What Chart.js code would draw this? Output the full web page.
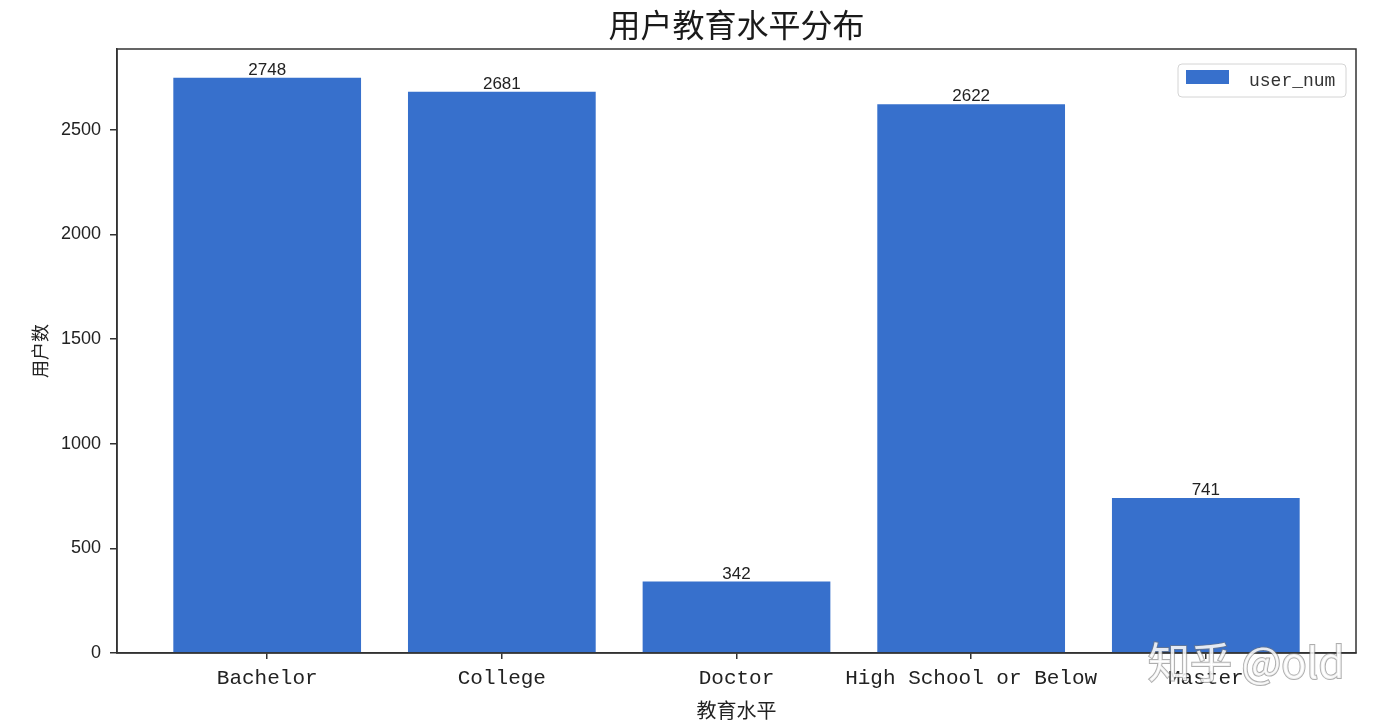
<!DOCTYPE html>
<html>
<head>
<meta charset="utf-8">
<script src="https://cdn.jsdelivr.net/npm/chart.js@4"></script>
<style>
  html, body { margin: 0; padding: 0; background: #fff; }
  #wrap { width: 1384px; height: 722px; }
</style>
</head>
<body>
<div id="wrap"><canvas id="mychart" width="1384" height="722"></canvas></div>
<script>
// 類別與數值
var categories = ['Bachelor', 'College', 'Doctor', 'High School or Below', 'Master']
var userNum = [2748, 2681, 342, 2622, 741]
var yTicks = [0, 500, 1000, 1500, 2000, 2500]
var seriesName = 'user_num'
var barColor = '#3770cc'

// 外框(上、右)
var frame = {
    id: 'frame',
    afterDraw: function (chart) {
        var a = chart.chartArea, c = chart.ctx
        c.save()
        c.strokeStyle = '#333'
        c.lineWidth = 1.5
        c.strokeRect(a.left, a.top, a.right - a.left, a.bottom - a.top)
        c.restore()
    }
}

// 柱頂數字
var barValues = {
    id: 'barValues',
    afterDatasetsDraw: function (chart) {
        var c = chart.ctx
        var meta = chart.getDatasetMeta(0)
        c.save()
        c.font = '17px "Liberation Sans", Arial, sans-serif'
        c.fillStyle = '#222'
        c.textAlign = 'center'
        c.textBaseline = 'bottom'
        meta.data.forEach(function (bar, i) {
            c.fillText(String(userNum[i]), bar.x, bar.y + 1)
        })
        c.restore()
    }
}

// 圖例(右上角,有框)
var boxLegend = {
    id: 'boxLegend',
    afterDraw: function (chart) {
        var a = chart.chartArea, c = chart.ctx
        var w = 168, h = 33
        var x = a.right - 10 - w, y = a.top + 15
        c.save()
        c.beginPath()
        c.roundRect(x, y, w, h, 4)
        c.fillStyle = 'rgba(255,255,255,0.8)'
        c.fill()
        c.strokeStyle = '#d4d4d4'
        c.lineWidth = 1
        c.stroke()
        c.fillStyle = barColor
        c.fillRect(x + 8, y + 6, 43, 14)
        c.fillStyle = '#333'
        c.font = '18px "Liberation Mono", "DejaVu Sans Mono", monospace'
        c.textBaseline = 'middle'
        c.fillText(chart.data.datasets[0].label, x + 71, y + 17)
        c.restore()
    }
}

// 浮水印
var watermark = {
    id: 'watermark',
    afterDraw: function (chart) {
        var c = chart.ctx
        c.save()
        c.font = '42px "Noto Sans CJK SC", sans-serif'
        c.textBaseline = 'middle'
        c.lineWidth = 2
        c.strokeStyle = 'rgba(120,120,120,0.6)'
        c.fillStyle = 'rgba(255,255,255,0.85)'
        c.strokeText('知乎 @old', 1148, 662)
        c.fillText('知乎 @old', 1148, 662)
        c.restore()
    }
}

var ctx = document.getElementById('mychart').getContext('2d')
var barchart = new Chart(ctx, {
    type: 'bar',
    data: {
        datasets: [{
            label: seriesName,
            data: userNum.map(function (v, i) { return { x: i, y: v } }),
            backgroundColor: barColor,
            borderWidth: 0,
            categoryPercentage: 1,
            barPercentage: 0.8
        }]
    },
    options: {
        responsive: false,
        animation: false,
        layout: { padding: { left: 0, right: 28, top: 0, bottom: 0 } },
        plugins: {
            legend: { display: false },
            tooltip: { enabled: false },
            title: {
                display: true,
                fullSize: false,
                text: '用户教育水平分布',
                color: '#1a1a1a',
                font: { family: '"Noto Sans CJK SC", sans-serif', size: 32, weight: 'normal', lineHeight: 1.2 },
                padding: { top: 6, bottom: 4.6 }
            }
        },
        scales: {
            x: {
                type: 'linear',
                offset: false,
                min: -0.64,
                max: 4.64,
                afterBuildTicks: function (scale) {
                    scale.ticks = categories.map(function (_, i) { return { value: i } })
                },
                afterFit: function (scale) { scale.height = 69 },
                ticks: {
                    autoSkip: false,
                    maxRotation: 0,
                    padding: 7,
                    color: '#222',
                    font: { family: '"Liberation Mono", "DejaVu Sans Mono", monospace', size: 21 },
                    callback: function (v) { return categories[v] }
                },
                grid: { display: true, offset: false, drawOnChartArea: false, drawTicks: true, tickLength: 6, color: '#333', lineWidth: 1.5 },
                border: { display: true, color: '#333', width: 1.5 },
                title: {
                    display: true,
                    text: '教育水平',
                    color: '#222',
                    font: { family: '"Noto Sans CJK SC", sans-serif', size: 20 },
                    padding: { top: 0, bottom: 0 }
                }
            },
            y: {
                min: 0,
                max: 2885.4,
                afterBuildTicks: function (scale) {
                    scale.ticks = yTicks.map(function (v) { return { value: v } })
                },
                afterFit: function (scale) { scale.width = 117 },
                ticks: {
                    padding: 9,
                    color: '#222',
                    font: { family: '"Liberation Sans", Arial, sans-serif', size: 18 },
                    callback: function (v) { return String(v) }
                },
                grid: { display: true, drawOnChartArea: false, drawTicks: true, tickLength: 7, color: '#333', lineWidth: 1.5 },
                border: { display: true, color: '#333', width: 1.5 },
                title: {
                    display: true,
                    text: '用户数',
                    color: '#222',
                    font: { family: '"Noto Sans CJK SC", sans-serif', size: 18 },
                    padding: { top: 29, bottom: 0 }
                }
            }
        }
    },
    plugins: [frame, barValues, boxLegend, watermark]
})
</script>
</body>
</html>
